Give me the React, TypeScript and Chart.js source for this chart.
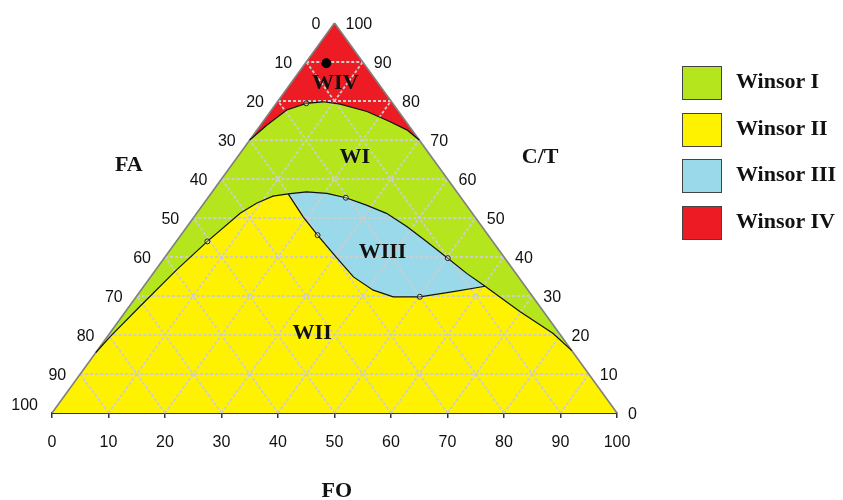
import React, { useEffect, useRef } from "react";
import { Chart, registerables } from "chart.js";

Chart.register(...registerables);

// ternary points are [FO, C/T]; FA = 100 - FO - C/T
const gridSteps = [10, 20, 30, 40, 50, 60, 70, 80, 90];
const foTicks = [0, 10, 20, 30, 40, 50, 60, 70, 80, 90, 100];
const faTicks = [0, 10, 20, 30, 40, 50, 60, 70, 80, 90, 100];
const ctTicks = [0, 10, 20, 30, 40, 50, 60, 70, 80, 90, 100];

const wivBoundary = [
	[0, 70], [1.1, 73.8], [2.7, 77.7], [5.3, 79.4], [8.1, 79.8], [11.4, 79.2],
	[17.1, 77.3], [22.5, 74.7], [26.5, 72.6], [30, 70],
];
const wiiLeftBoundary = [
	[0, 15.5], [0.5, 19.6], [1.9, 27.3], [3.7, 36.7], [5.5, 44], [7.7, 51.2],
	[9.3, 53.8], [11.3, 55.6], [13.7, 56.2],
];
const wiiiTopBoundary = [
	[13.7, 56.2], [16.7, 56.7], [20.5, 56.3], [24.4, 55.2], [29, 53.3], [33.6, 51.2],
	[38.9, 47.8], [44.4, 43.9], [50.2, 39.7], [55.5, 35.8], [60.4, 32.5],
];
const wiiiBottomBoundary = [
	[13.7, 56.2], [19.3, 50.3], [24.2, 45.6], [30.6, 39.7], [35.9, 34.9], [41.1, 31.5],
	[45.5, 29.8], [50.2, 29.8], [55.5, 31.1], [60.4, 32.5],
];
const wiiRightBoundary = [[60.4, 32.5], [69.8, 26], [78.5, 20.4], [84, 16]];
const measuredPoints = [[5.3, 79.4], [5.5, 44], [24.4, 55.2], [24.2, 45.6], [50.2, 39.7], [50.2, 29.8]];
const samplePoint = [[3.7, 89.7]];

const regionNames = ["WI", "WII", "WIII", "WIV"];
const regionLabelAt = [[20.8, 65.6], [35.8, 20.5], [37.9, 41.2], [7.9, 84.5]];
const legendNames = ["Winsor I", "Winsor II", "Winsor III", "Winsor IV"];
const regionColors = ["#b5e61d", "#fff200", "#99d9ea", "#ed1c24"];

const axisTitles = ["FA", "C/T", "FO"];
const axisTitleAt = [[13.6, 63.6], [86.4, 65.6], [50.4, -20.2]]; // plain x/y units

const toXY = (p: number[]) => ({ x: p[0] + p[1] / 2, y: p[1] });

const serif = "'Liberation Serif', 'Times New Roman', serif";
const sans = "'Liberation Sans', Arial, sans-serif";

const ternaryText = {
	id: "ternaryText",
	afterDatasetsDraw(chart: any) {
		const { ctx } = chart;
		const xs = chart.scales.x;
		const ys = chart.scales.y;
		const px = (fo: number, ct: number) => xs.getPixelForValue(fo + ct / 2);
		const py = (ct: number) => ys.getPixelForValue(ct);
		ctx.save();
		ctx.fillStyle = "#111";
		ctx.textBaseline = "middle";
		ctx.font = "16px " + sans;
		ctx.textAlign = "right";
		faTicks.forEach(fa => {
			const ct = 100 - fa;
			ctx.fillText(String(fa), px(0, ct) - 14, py(ct) + (fa === 100 ? -7 : 2));
		});
		ctx.textAlign = "left";
		ctTicks.forEach(ct => {
			ctx.fillText(String(ct), px(100 - ct, ct) + 11, py(ct) + 2);
		});
		ctx.font = "bold 22px " + serif;
		ctx.textAlign = "center";
		regionNames.forEach((name, i) => {
			const [fo, ct] = regionLabelAt[i];
			ctx.fillText(name, px(fo, ct), py(ct));
		});
		axisTitles.forEach((name, i) => {
			const [x, y] = axisTitleAt[i];
			ctx.fillText(name, xs.getPixelForValue(x), ys.getPixelForValue(y));
		});
		ctx.restore();
	},
};

const TernaryChart: React.FC = () => {
	const chartRef = useRef<HTMLCanvasElement>(null);

	useEffect(() => {
		if (!chartRef.current) return;

		const layers: any[] = [];
		const polygon = (pts: number[][], color: string) =>
			layers.push({
				data: pts.map(toXY),
				showLine: true,
				fill: "shape",
				backgroundColor: color,
				borderWidth: 0,
				pointRadius: 0,
			});
		const line = (pts: number[][], color: string, width: number, dash: number[] = []) =>
			layers.push({
				data: pts.map(toXY),
				showLine: true,
				fill: false,
				borderColor: color,
				borderWidth: width,
				borderDash: dash,
				pointRadius: 0,
			});

		// regions, bottom to top
		polygon([[0, 0], [0, 100], [100, 0]], regionColors[0]);
		polygon([...wivBoundary, [0, 100]], regionColors[3]);
		polygon(
			[[0, 0], ...wiiLeftBoundary, ...wiiiBottomBoundary.slice(1), ...wiiRightBoundary.slice(1), [100, 0]],
			regionColors[1]
		);
		polygon([...wiiiTopBoundary, ...[...wiiiBottomBoundary].reverse().slice(1)], regionColors[2]);

		// dashed grid
		gridSteps.forEach(t => {
			line([[0, t], [100 - t, t]], "#cdcdcd", 1.8, [3, 2]);
			line([[t, 0], [t, 100 - t]], "#cdcdcd", 1.8, [3, 2]);
			line([[100 - t, 0], [0, 100 - t]], "#cdcdcd", 1.8, [3, 2]);
		});

		// triangle sides
		line([[0, 0], [0, 100]], "#7f7f7f", 1.6);
		line([[0, 100], [100, 0]], "#7f7f7f", 1.6);

		// phase boundaries
		line(wivBoundary, "#111", 1.2);
		line([...wiiLeftBoundary, ...wiiiTopBoundary.slice(1), ...wiiRightBoundary.slice(1)], "#111", 1.2);
		line(wiiiBottomBoundary, "#111", 1.2);

		layers.push({
			data: measuredPoints.map(toXY),
			showLine: false,
			pointRadius: 2.5,
			pointBackgroundColor: "rgba(255,255,255,0.3)",
			pointBorderColor: "#222",
			pointBorderWidth: 1,
		});
		layers.push({
			data: samplePoint.map(toXY),
			showLine: false,
			pointRadius: 4.5,
			pointBackgroundColor: "#000",
			pointBorderColor: "#000",
		});

		const datasets = layers.map((d, i) => ({ ...d, order: layers.length - i, clip: false }));

		const chartInstance = new Chart(chartRef.current, {
			type: "scatter",
			data: { datasets },
			options: {
				animation: false,
				responsive: true,
				maintainAspectRatio: false,
				layout: { padding: { left: 52, right: 226, top: 23, bottom: 47 } },
				plugins: {
					legend: { display: false },
					tooltip: { enabled: false },
				},
				scales: {
					x: {
						type: "linear",
						min: 0,
						max: 100,
						afterBuildTicks: (s: any) => {
							s.ticks = foTicks.map(v => ({ value: v }));
						},
						afterFit: (s: any) => {
							s.height = 40;
						},
						ticks: {
							autoSkip: false,
							maxRotation: 0,
							padding: 15,
							color: "#111",
							font: { family: sans, size: 16 },
						},
						grid: {
							drawOnChartArea: false,
							drawTicks: true,
							tickLength: 5,
							color: "#333",
							lineWidth: 1.5,
						},
						border: { display: true, color: "#333", width: 2 },
					},
					y: { type: "linear", min: 0, max: 100, display: false },
				},
			},
			plugins: [ternaryText],
		} as any);

		return () => {
			chartInstance.destroy();
		};
	}, []);

	return <canvas ref={chartRef} />;
};

const App: React.FC = () => (
	<div style={{ position: "absolute", left: 0, top: 0, width: 843, height: 500, background: "#fff" }}>
		<TernaryChart />
		<div style={{ position: "absolute", left: 682, top: 66 }}>
			{legendNames.map((name, i) => (
				<div key={name} style={{ display: "flex", alignItems: "center", height: 34, marginBottom: 12.7 }}>
					<div
						style={{
							width: 40,
							height: 34,
							boxSizing: "border-box",
							border: "1.5px solid #444",
							background: regionColors[i],
						}}
					/>
					<span style={{ marginLeft: 14, font: "bold 22px " + serif, color: "#111", marginTop: -4 }}>{name}</span>
				</div>
			))}
		</div>
	</div>
);

export default App;
